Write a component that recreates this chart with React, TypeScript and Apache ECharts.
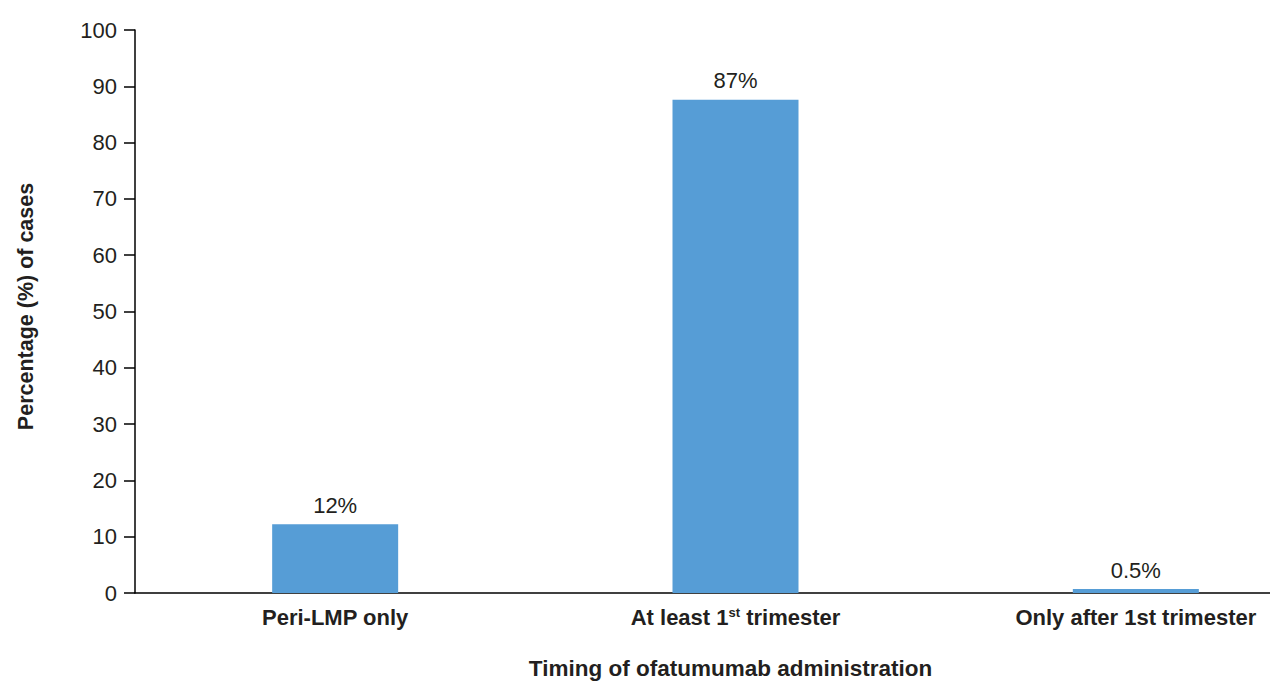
import React, { useEffect, useRef } from "react";
import * as echarts from "echarts";

const categories = ["Peri-LMP only", "At least 1{sup|st} trimester", "Only after 1st trimester"];
const values = [12.2, 87.6, 0.7];
const valueLabels = ["12%", "87%", "0.5%"];
const yTicks = { min: 0, max: 100, interval: 10 };
const xAxisTitle = "Timing of ofatumumab administration";
const yAxisTitle = "Percentage (%) of cases";

const FONT = "Liberation Sans, Arial, Helvetica, sans-serif";
const TEXT = "#231f20";

export default function App() {
  const ref = useRef<HTMLDivElement>(null);
  useEffect(() => {
    if (!ref.current) return;
    const chart = echarts.init(ref.current, null, { renderer: "svg" });
    chart.setOption({
      animation: false,
      backgroundColor: "#ffffff",
      textStyle: { fontFamily: FONT },
      grid: { left: 135, top: 30, width: 1201, height: 563, containLabel: false, outerBoundsMode: "none" },
      xAxis: {
        type: "category",
        data: categories,
        axisLine: { show: true, lineStyle: { color: "#000", width: 1.5 } },
        axisTick: { show: false },
        axisLabel: {
          interval: 0,
          margin: 13,
          color: TEXT,
          fontSize: 22,
          fontWeight: "bold",
          fontFamily: FONT,
          rich: {
            sup: { fontSize: 13, fontWeight: "bold", color: TEXT, fontFamily: FONT, verticalAlign: "top", padding: [0, 0, 8, 0] },
          },
        },
        name: xAxisTitle,
        nameLocation: "middle",
        nameGap: 64,
        nameTextStyle: { color: TEXT, fontSize: 22.5, fontWeight: "bold", fontFamily: FONT, padding: [0, 10, 0, 0] },
      },
      yAxis: {
        type: "value",
        min: yTicks.min,
        max: yTicks.max,
        interval: yTicks.interval,
        axisLine: { show: true, lineStyle: { color: "#000", width: 1.5 } },
        axisTick: { show: true, length: 11, lineStyle: { color: "#000", width: 1.5 } },
        splitLine: { show: false },
        axisLabel: { color: TEXT, fontSize: 22, fontFamily: FONT, margin: 18 },
        name: yAxisTitle,
        nameLocation: "middle",
        nameGap: 98,
        nameTextStyle: { color: TEXT, fontSize: 21.5, fontWeight: "bold", fontFamily: FONT, padding: [0, 0, 0, 10] },
      },
      series: [
        {
          type: "bar",
          data: values,
          barWidth: 126,
          itemStyle: { color: "#569dd6" },
          label: {
            show: true,
            position: "top",
            distance: 8,
            color: TEXT,
            fontSize: 22,
            fontFamily: FONT,
            formatter: (p: any) => valueLabels[p.dataIndex],
          },
        },
      ],
    });
    return () => chart.dispose();
  }, []);
  return (
    <div style={{ position: "absolute", left: 0, top: 0, width: 1270, height: 681, overflow: "hidden" }}>
      <div ref={ref} style={{ width: 1340, height: 681 }} />
    </div>
  );
}
